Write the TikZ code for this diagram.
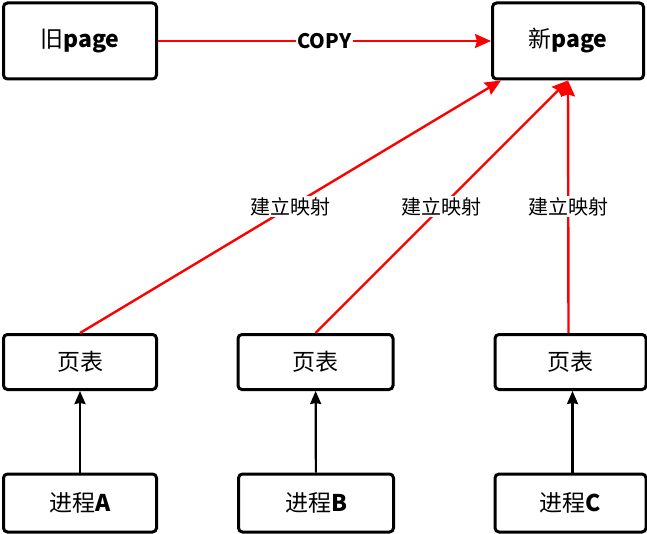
\documentclass[tikz,border=0pt]{standalone}
\usepackage{fontspec}
\setmainfont{Noto Sans CJK SC}
\usetikzlibrary{arrows.meta}
\begin{document}
\begin{tikzpicture}[x=1pt, y=-1pt,
		box/.style={draw, line width=3pt, rounded corners=4pt, minimum width=153pt, inner sep=0pt},
		bigbox/.style={box, minimum height=76pt},
		tabbox/.style={box, minimum height=55pt},
		procbox/.style={box, minimum height=58pt},
		txt/.style={font=\fontsize{23}{25}\selectfont},
		lbl/.style={fill=white, text=black, inner sep=1pt, font=\fontsize{20}{22}\selectfont},
		maparrow/.style={red, line width=2.4pt, -{Stealth[length=16pt, width=14pt, inset=2pt]}},
		usearrow/.style={line width=2.2pt, -{Stealth[length=13pt, width=11pt, inset=1pt]}}]
			\useasboundingbox (0,0) rectangle (647,534);
			\node [bigbox, txt] (old) at (80,41) {旧\textbf{page}};
			\node [bigbox, txt, minimum width=151pt] (new) at (568,41) {新\textbf{page}};
			\node [tabbox, txt] (tA) at (80,362) {页表};
			\node [tabbox, txt, minimum width=155pt] (tB) at (315.5,362) {页表};
			\node [tabbox, txt, minimum width=151pt] (tC) at (570.5,362) {页表};
			\node [procbox, txt] (pA) at (80,503) {进程\textbf{A}};
			\node [procbox, txt, minimum width=155pt] (pB) at (316,503) {进程\textbf{B}};
			\node [procbox, txt, minimum width=151pt] (pC) at (570.5,503) {进程\textbf{C}};
			\draw [maparrow] (old) -- node[lbl] {\textbf{COPY}} (new);
			\draw [maparrow] (tA.north) -- node[lbl] {建立映射} ([xshift=10pt]new.south west);
			\draw [maparrow] (tB.north) -- node[lbl] {建立映射} (new.south);
			\draw [maparrow] ([xshift=-2pt]tC.north) -- node[lbl] {建立映射} (new.south);
			\draw [usearrow] (pA) -- (tA);
			\draw [usearrow] (pB) -- (tB);
			\draw [usearrow] ([xshift=2pt]pC.north) -- ([xshift=2pt]tC.south);
		\end{tikzpicture}
\end{document}
